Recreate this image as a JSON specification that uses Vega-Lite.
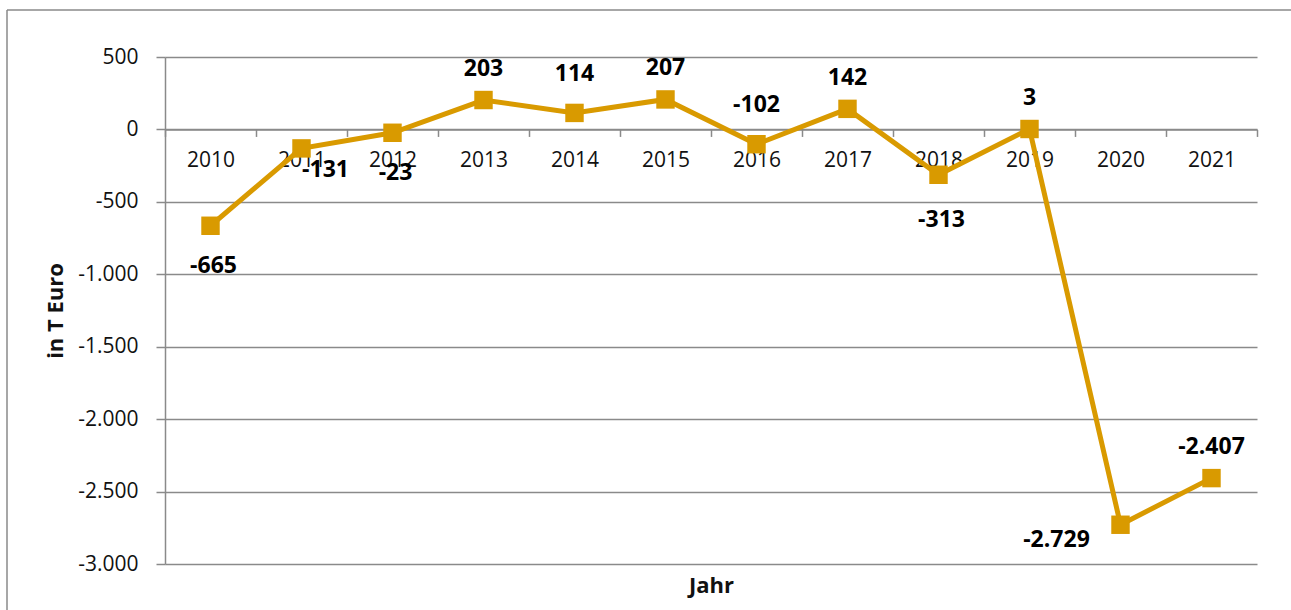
{
  "$schema": "https://vega.github.io/schema/vega-lite/v6.json",
  "width": 1284,
  "height": 600,
  "autosize": "none",
  "padding": {"left": 7, "top": 10, "right": 0, "bottom": 0},
  "background": "white",
  "config": {
    "view": {"stroke": "#8a8a8a", "strokeWidth": 1.5, "strokeDash": [1284, 1884, 600, 0]},
    "locale": {"number": {"decimal": ",", "thousands": ".", "grouping": [3], "currency": ["", " €"], "minus": "-"}},
    "font": "Open Sans"
  },
  "data": {
    "values": [
      {"Jahr": "2010", "Wert": -665},
      {"Jahr": "2011", "Wert": -131},
      {"Jahr": "2012", "Wert": -23},
      {"Jahr": "2013", "Wert": 203},
      {"Jahr": "2014", "Wert": 114},
      {"Jahr": "2015", "Wert": 207},
      {"Jahr": "2016", "Wert": -102},
      {"Jahr": "2017", "Wert": 142},
      {"Jahr": "2018", "Wert": -313},
      {"Jahr": "2019", "Wert": 3},
      {"Jahr": "2020", "Wert": -2729},
      {"Jahr": "2021", "Wert": -2407}
    ]
  },
  "encoding": {
    "x": {
      "field": "Jahr", "type": "ordinal",
      "scale": {"type": "band", "paddingInner": 0, "paddingOuter": 0, "range": [158, 1250]},
      "axis": {
        "title": "Jahr", "offset": -480.57, "grid": false,
        "domainColor": "#8a8a8a", "domainWidth": 1.5,
        "tickColor": "#8a8a8a", "tickWidth": 1.5, "tickSize": 7, "tickBand": "extent",
        "labelAngle": 0, "labelPadding": 13, "labelFont": "Open Sans", "labelFontSize": 21, "labelColor": "#111",
        "titleFont": "Open Sans", "titleFontWeight": "bold", "titleFontSize": 22, "titleColor": "#111",
        "titleX": 704, "titleY": 456, "titleBaseline": "middle", "titleAlign": "center"
      }
    },
    "y": {
      "field": "Wert", "type": "quantitative",
      "scale": {"domain": [-3000, 500], "nice": false, "zero": false, "range": [554, 47]},
      "axis": {
        "title": "in T Euro", "values": [-3000, -2500, -2000, -1500, -1000, -500, 0, 500], "format": ",d",
        "offset": -158,
        "domainColor": "#8a8a8a", "domainWidth": 1.5,
        "tickColor": "#8a8a8a", "tickWidth": 1.5, "tickSize": 9,
        "gridColor": "#8a8a8a", "gridWidth": 1.5,
        "labelPadding": 18, "labelFont": "Open Sans", "labelFontSize": 21, "labelColor": "#111",
        "titleFont": "Open Sans", "titleFontWeight": "bold", "titleFontSize": 22, "titleColor": "#111",
        "titleX": -110, "titleY": 300.5, "titleAngle": 270, "titleAlign": "center", "titleBaseline": "middle"
      }
    }
  },
  "layer": [
    {"mark": {"type": "line", "color": "#D99A00", "strokeWidth": 5}},
    {"mark": {"type": "point", "shape": "square", "filled": true, "color": "#D99A00", "opacity": 1, "size": 340}},
    {
      "transform": [{"filter": {"field": "Jahr", "oneOf": ["2013", "2015", "2017", "2019", "2021"]}}],
      "mark": {"type": "text", "dy": -31, "fontWeight": "bold", "fontSize": 23, "color": "#000", "font": "Open Sans"},
      "encoding": {"text": {"field": "Wert", "type": "quantitative", "format": ",d"}}
    },
    {
      "transform": [{"filter": {"field": "Jahr", "oneOf": ["2014", "2016"]}}],
      "mark": {"type": "text", "dy": -39, "fontWeight": "bold", "fontSize": 23, "color": "#000", "font": "Open Sans"},
      "encoding": {"text": {"field": "Wert", "type": "quantitative", "format": ",d"}}
    },
    {
      "transform": [{"filter": {"field": "Jahr", "oneOf": ["2010", "2012"]}}],
      "mark": {"type": "text", "dy": 40, "dx": 3, "fontWeight": "bold", "fontSize": 23, "color": "#000", "font": "Open Sans"},
      "encoding": {"text": {"field": "Wert", "type": "quantitative", "format": ",d"}}
    },
    {
      "transform": [{"filter": {"field": "Jahr", "oneOf": ["2018"]}}],
      "mark": {"type": "text", "dy": 45, "dx": 3, "fontWeight": "bold", "fontSize": 23, "color": "#000", "font": "Open Sans"},
      "encoding": {"text": {"field": "Wert", "type": "quantitative", "format": ",d"}}
    },
    {
      "transform": [{"filter": {"field": "Jahr", "oneOf": ["2011"]}}],
      "mark": {"type": "text", "dy": 22, "dx": 24, "fontWeight": "bold", "fontSize": 23, "color": "#000", "font": "Open Sans"},
      "encoding": {"text": {"field": "Wert", "type": "quantitative", "format": ",d"}}
    },
    {
      "transform": [{"filter": {"field": "Jahr", "oneOf": ["2020"]}}],
      "mark": {"type": "text", "dy": 15, "dx": -64, "fontWeight": "bold", "fontSize": 23, "color": "#000", "font": "Open Sans"},
      "encoding": {"text": {"field": "Wert", "type": "quantitative", "format": ",d"}}
    }
  ]
}
